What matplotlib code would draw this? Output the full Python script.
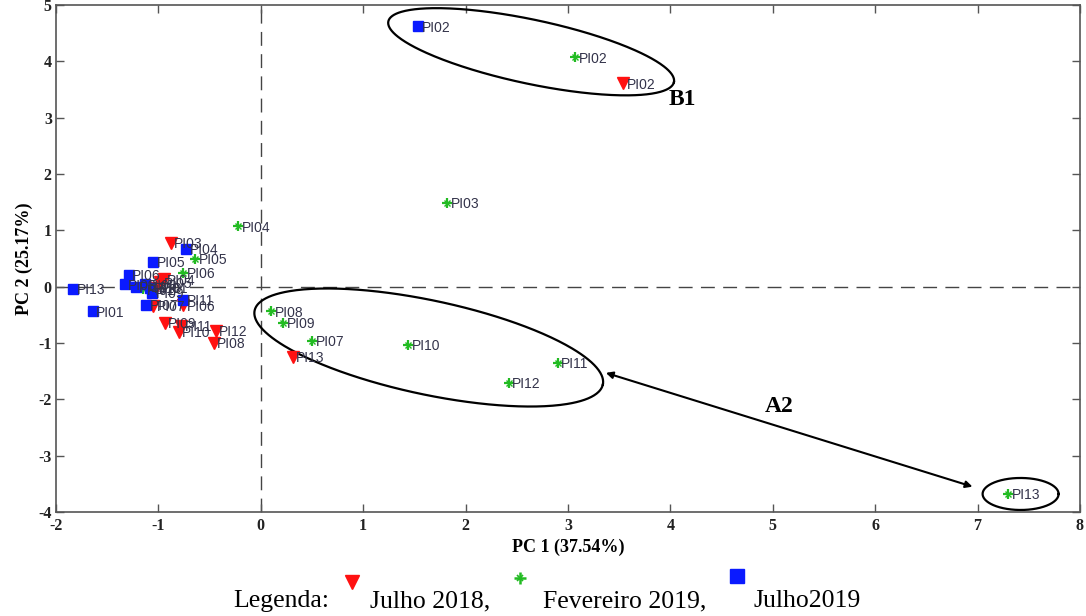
import numpy as np
import matplotlib
matplotlib.use("Agg")
import matplotlib.pyplot as plt
from matplotlib.lines import Line2D

plt.rcParams["axes.unicode_minus"] = False

# ---------------- data ----------------
labels = ["PI01", "PI02", "PI03", "PI04", "PI05", "PI06", "PI07",
          "PI08", "PI09", "PI10", "PI11", "PI12", "PI13"]

jul18_x = [-1.02, 3.54, -0.88, -0.95, -0.98, -0.76, -1.05, -0.46, -0.94, -0.80, -0.78, -0.44, 0.31]
jul18_y = [-0.02, 3.61, 0.78, 0.13, 0.08, -0.33, -0.34, -1.00, -0.64, -0.80, -0.70, -0.78, -1.24]

fev19_x = [-1.15, 3.07, 1.82, -0.22, -0.64, -0.76, 0.50, 0.10, 0.22, 1.44, 2.90, 2.42, 7.30]
fev19_y = [-0.05, 4.07, 1.49, 1.07, 0.50, 0.25, -0.96, -0.44, -0.64, -1.03, -1.35, -1.71, -3.68]

jul19_x = [-1.64, 1.54, -1.33, -0.73, -1.05, -1.29, -1.12, -1.13, -1.06, -1.08, -0.76, -1.22, -1.83]
jul19_y = [-0.44, 4.62, 0.04, 0.67, 0.44, 0.21, -0.32, 0.04, -0.11, -0.02, -0.23, 0.00, -0.04]

xticks = [-2, -1, 0, 1, 2, 3, 4, 5, 6, 7, 8]
yticks = [-4, -3, -2, -1, 0, 1, 2, 3, 4, 5]

# ---------------- figure ----------------
fig = plt.figure(figsize=(10.86, 6.16), dpi=100)
ax = fig.add_axes([56/1086, 1-512/616, 1024/1086, 507/616])
ax.set_xlim(-2, 8)
ax.set_ylim(-4, 5)

serif = "Liberation Serif"
sans = "Liberation Sans"

# dashed zero lines
ax.axvline(0, color="#444444", lw=1.0, ls=(0, (10, 6)), zorder=1)
ax.axhline(0, color="#444444", lw=1.0, ls=(0, (10, 6)), zorder=1)

lab_color = "#33334a"
red = "#ff1111"
green = "#22bb22"
blue = "#0a1aff"

ax.plot(fev19_x, fev19_y, ls="none", marker="+", ms=7, mew=1.6, color=green, zorder=3)
ax.plot(fev19_x, fev19_y, ls="none", marker="x", ms=4, mew=1.0, color=green, zorder=3)
ax.plot(jul18_x, jul18_y, ls="none", marker="v", ms=8.5, color=red, mec=red, zorder=4)
ax.plot(jul19_x, jul19_y, ls="none", marker="s", ms=7, color=blue, mec=blue, zorder=5)

for xs, ys in [(jul18_x, jul18_y), (fev19_x, fev19_y), (jul19_x, jul19_y)]:
    for lb, x, y in zip(labels, xs, ys):
        ax.annotate(lb, (x, y), xytext=(2.5, -1), textcoords="offset points",
                    fontsize=10, family=sans, color=lab_color, va="center", ha="left", zorder=6)

# axes styling
ax.set_xticks(xticks)
ax.set_yticks(yticks)
ax.tick_params(direction="in", length=6, width=1, colors="#555555", top=True, right=True,
               labelcolor="#222222")
for t in ax.get_xticklabels() + ax.get_yticklabels():
    t.set_fontfamily(serif)
    t.set_fontsize(11.5)
    t.set_fontweight("bold")
ax.tick_params(axis="x", pad=4)
ax.tick_params(axis="y", pad=3)
for s in ax.spines.values():
    s.set_color("#555555")
    s.set_linewidth(1.2)

ax.set_xlabel("PC 1 (37.54%)", family=serif, fontsize=13, fontweight="bold", labelpad=4)
ax.set_ylabel("PC 2 (25.17%)", family=serif, fontsize=13, fontweight="bold", labelpad=4)

# ---------------- annotation ellipses (pixel-space shapes) ----------------
def draw_ellipse(cx, cy, a_px, b_px, ang_deg):
    c = ax.transData.transform((cx, cy))
    t = np.linspace(0, 2*np.pi, 400)
    th = np.deg2rad(ang_deg)
    px = c[0] + a_px*np.cos(t)*np.cos(th) - b_px*np.sin(t)*np.sin(th)
    py = c[1] + a_px*np.cos(t)*np.sin(th) + b_px*np.sin(t)*np.cos(th)
    d = ax.transData.inverted().transform(np.column_stack([px, py]))
    ax.plot(d[:, 0], d[:, 1], color="black", lw=1.6, zorder=2)

draw_ellipse(2.64, 4.17, 146, 32, -12)
draw_ellipse(1.64, -1.08, 178, 47, -12)
draw_ellipse(7.42, -3.68, 38, 16, 0)

ax.annotate("", xy=(3.37, -1.53), xytext=(6.95, -3.55),
            arrowprops=dict(arrowstyle="<|-|>", color="black", lw=1.5,
                            mutation_scale=10, shrinkA=0, shrinkB=0))
ax.text(4.12, 3.32, "B1", family=serif, fontsize=17, fontweight="bold", ha="center", va="center")
ax.text(5.06, -2.13, "A2", family=serif, fontsize=17, fontweight="bold", ha="center", va="center")

# ---------------- bottom legend ----------------
ly = 1 - 601/616
fs = 18.5
fig.text(233/1086, ly, "Legenda:", family=serif, fontsize=fs, va="center", ha="left")
fig.add_artist(Line2D([352/1086], [1-582/616], marker="v", ms=10.5, color=red, ls="none",
                      transform=fig.transFigure))
fig.text(370/1086, ly, "Julho 2018,", family=serif, fontsize=fs, va="center", ha="left")
fig.add_artist(Line2D([520/1086], [1-578/616], marker="+", ms=9, mew=1.8, color=green, ls="none",
                      transform=fig.transFigure))
fig.add_artist(Line2D([520/1086], [1-578/616], marker="x", ms=5, mew=1.2, color=green, ls="none",
                      transform=fig.transFigure))
fig.text(543/1086, ly, "Fevereiro 2019,", family=serif, fontsize=fs, va="center", ha="left")
fig.add_artist(Line2D([737/1086], [1-576/616], marker="s", ms=10, color=blue, ls="none",
                      transform=fig.transFigure))
fig.text(754/1086, ly, "Julho2019", family=serif, fontsize=fs, va="center", ha="left")

fig.savefig("out.png", dpi=100)
